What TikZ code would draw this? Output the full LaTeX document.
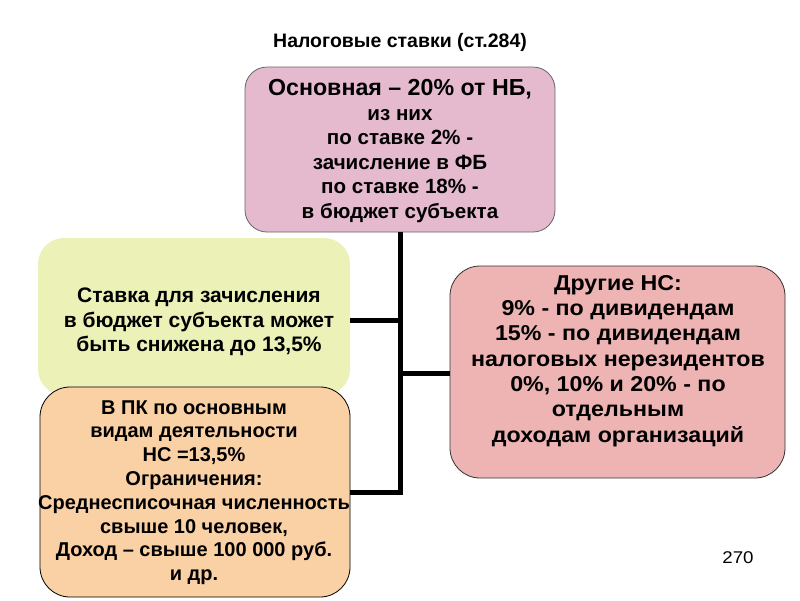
\documentclass[tikz,border=0pt]{standalone}
\usepackage{fontspec}
\setmainfont{Liberation Sans}
\definecolor{toppink}{RGB}{230,186,206}
\definecolor{limegreen}{RGB}{235,241,183}
\definecolor{peach}{RGB}{250,208,165}
\definecolor{rosebox}{RGB}{238,180,180}
\tikzset{
  box/.style={rounded corners=#1, inner sep=0pt},
  txt/.style={align=center, inner sep=0pt, font=\bfseries\fontsize{21}{24.5}\selectfont},
  conn/.style={line width=5pt, black}
}
\begin{document}
\begin{tikzpicture}[x=1pt,y=-1pt]
\useasboundingbox (0,0) rectangle (800,600);
\fill[white] (0,0) rectangle (800,600);
% title
\node[font=\bfseries\fontsize{19.5}{22}\selectfont] (title) at (400,42) {Налоговые ставки (ст.284)};
% boxes
\node[box=22pt, draw=gray!80!black, line width=0.8pt, fill=toppink, minimum width=310pt, minimum height=165pt] (top) at (400,149.5) {};
\node[box=26pt, fill=limegreen, minimum width=312pt, minimum height=157pt] (green) at (194,316.5) {};
\node[box=30pt, draw=black, line width=0.8pt, fill=peach, minimum width=310pt, minimum height=210pt] (orange) at (195,492) {};
\node[box=30pt, draw=black!80, line width=0.8pt, fill=rosebox, minimum width=335pt, minimum height=212pt] (right) at (617.5,372) {};
% texts
\node[txt, font=\bfseries\fontsize{20.6}{24.5}\selectfont] (toptxt) at (400,151) {{\fontsize{23.2}{24.5}\selectfont Основная -- 20\% от НБ,}\\из них\\по ставке 2\% -\\зачисление в ФБ\\по ставке 18\% -\\в бюджет субъекта};
\node[txt] (greentxt) at (199,322) {Ставка для зачисления\\в бюджет субъекта может\\быть снижена до 13,5\%};
\node[txt, font=\bfseries\fontsize{21.5}{25.3}\selectfont, xscale=1.08, transform shape] (righttxt) at (618,361) {Другие НС:\\9\% - по дивидендам\\15\% - по дивидендам\\налоговых нерезидентов\\0\%, 10\% и 20\% - по\\отдельным\\доходам организаций};
\node[txt, font=\bfseries\fontsize{20}{23.8}\selectfont] (orangetxt) at (194,492.5) {В ПК по основным\\видам деятельности\\НС =13,5\%\\Ограничения:\\Среднесписочная численность\\свыше 10 человек,\\Доход -- свыше 100 000 руб.\\и др.};
% connectors
\coordinate (jl) at (400,320);
\coordinate (jr) at (400,373);
\draw[conn] (orange.east) -| (top.south);
\draw[conn] (green.east |- jl) -- (jl);
\draw[conn] (jr) -- (right.west |- jr);
% page number
\node[font=\fontsize{17}{19}\selectfont, xscale=1.1, transform shape] (page) at (738,558) {270};
\end{tikzpicture}
\end{document}
